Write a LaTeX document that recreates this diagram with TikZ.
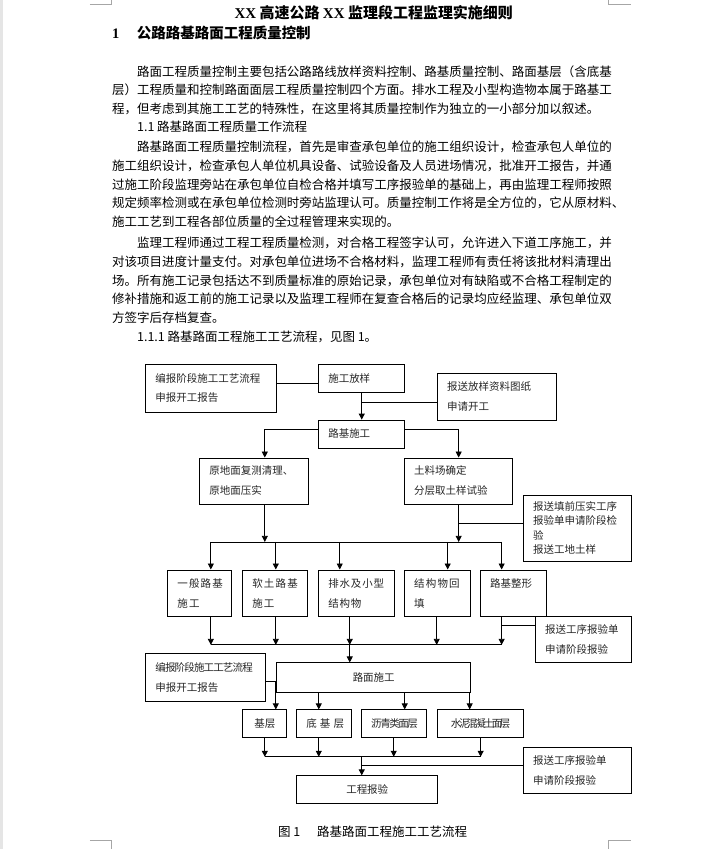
\documentclass[tikz,border=0pt]{standalone}
\usepackage{fontspec}
\setmainfont{Noto Sans CJK SC}
\newfontfamily\latinserif{Liberation Serif}
\usepackage{tikz}
\usetikzlibrary{arrows.meta,positioning,calc}
\newcommand{\bodyfont}{\fontsize{12.5}{18.6}\selectfont}
\newcommand{\boxfont}{\fontsize{10.5}{20}\selectfont}

\begin{document}
\begin{tikzpicture}[x=1pt, y=-1pt,
    para/.style={anchor=base west, text width=500pt, align=left, inner sep=0pt, font=\bodyfont},
    line/.style={anchor=base west, inner sep=0pt, font=\bodyfont},
    box/.style={draw, line width=0.8pt, inner xsep=9.5pt, inner ysep=0pt, align=left, font=\boxfont, text=black!85},
    cbox/.style={box, align=center},
    conn/.style={line width=0.8pt},
    flow/.style={conn, -{Triangle[length=6pt, width=6pt]}}
]
% page
\fill[white] (0,0) rectangle (717,849);
\fill[black!10] (0,0) rectangle (3,849);
\draw[black!35, line width=0.6pt] (90,4) -- (111,4) -- (111,0);
\draw[black!35, line width=0.6pt] (631,4) -- (609,4) -- (609,0);
\draw[black!35, line width=0.6pt] (90,841) -- (111,841) -- (111,849);
\draw[black!35, line width=0.6pt] (631,841) -- (609,841) -- (609,849);

% text part
\node[anchor=base, inner sep=0pt, font=\fontsize{15}{18}\selectfont\bfseries] (title) at (374,18.7)
    {{\latinserif\bfseries XX} 高速公路 {\latinserif\bfseries XX} 监理段工程监理实施细则};
\node[anchor=base west, inner sep=0pt, font=\fontsize{14.5}{18}\selectfont\bfseries] (head) at (112,38)
    {{\latinserif\bfseries 1}\hspace{17.5pt}公路路基路面工程质量控制};
\node[para] (p1) at (112,76) {\hspace*{25pt}路面工程质量控制主要包括公路路线放样资料控制、路基质量控制、路面基层（含底基\\
    层）工程质量和控制路面面层工程质量控制四个方面。排水工程及小型构造物本属于路基工\\
    程，但考虑到其施工工艺的特殊性，在这里将其质量控制作为独立的一小部分加以叙述。};
\node[line] (sec1) at (137,131.7) {1.1 路基路面工程质量工作流程};
\node[para] (p2) at (112,151.7) {\hspace*{25pt}路基路面工程质量控制流程，首先是审查承包单位的施工组织设计，检查承包人单位的\\
    施工组织设计，检查承包人单位机具设备、试验设备及人员进场情况，批准开工报告，并通\\
    过施工阶段监理旁站在承包单位自检合格并填写工序报验单的基础上，再由监理工程师按照\\
    规定频率检测或在承包单位检测时旁站监理认可。质量控制工作将是全方位的，它从原材料、\\
    施工工艺到工程各部位质量的全过程管理来实现的。};
\node[para] (p3) at (112,247.7) {\hspace*{25pt}监理工程师通过工程工程质量检测，对合格工程签字认可，允许进入下道工序施工，并\\
    对该项目进度计量支付。对承包单位进场不合格材料，监理工程师有责任将该批材料清理出\\
    场。所有施工记录包括达不到质量标准的原始记录，承包单位对有缺陷或不合格工程制定的\\
    修补措施和返工前的施工记录以及监理工程师在复查合格后的记录均应经监理、承包单位双\\
    方签字后存档复查。};
\node[line] (sec2) at (137,341) {1.1.1 路基路面工程施工工艺流程，见图 1。};

% flow chart
\node[box, text width=112pt, minimum height=48pt] (bb1) at (211.5,388) {编报阶段施工工艺流程\\申报开工报告};
\node[box, text width=67pt, minimum height=28pt] (fy) at (362,378) {施工放样};
\node[box, text width=100pt, minimum height=47pt] (bsfy) at (497.5,396.5) {报送放样资料图纸\\申请开工};
\node[box, text width=67pt, minimum height=28pt] (ljsg) at (362,434) {路基施工};
\node[box, text width=90pt, minimum height=46pt] (ydm) at (254.5,481) {原地面复测清理、\\原地面压实};
\node[box, text width=89pt, minimum height=46pt] (tlc) at (459,481) {土料场确定\\分层取土样试验};
\node[box, text width=89pt, minimum height=66pt, font=\fontsize{10.5}{14.6}\selectfont] (bstq) at (578,528)
    {报送填前压实工序\\报验单申请阶段检\\验\\报送工地土样};
\node[box, text width=45pt, minimum height=47pt, font=\boxfont\addfontfeature{LetterSpace=11}] (ybl) at (200,593.5) {一般路基\\施工};
\node[box, text width=46pt, minimum height=47pt, font=\boxfont\addfontfeature{LetterSpace=11}] (rtl) at (275.5,593.5) {软土路基\\施工};
\node[box, text width=57pt, minimum height=47pt, font=\boxfont\addfontfeature{LetterSpace=8}] (psx) at (357,593.5) {排水及小型\\结构物};
\node[box, text width=47pt, minimum height=47pt, font=\boxfont\addfontfeature{LetterSpace=11}] (jgw) at (438,593.5) {结构物回\\填};
\node[box, text width=47pt, minimum height=47pt] (zx) at (514,593.5) {路基整形\\\mbox{}};
\node[box, text width=77pt, minimum height=46pt] (bsgx1) at (584,640) {报送工序报验单\\申请阶段报验};
\node[box, text width=101pt, minimum height=48pt] (bb2) at (206,678)
    {{\addfontfeature{LetterSpace=-8}编报阶段施工工艺流程}\\申报开工报告};
\node[cbox, text width=175pt, minimum height=30pt] (lmsg) at (374,678) {路面施工};
\node[cbox, text width=25pt, minimum height=28pt] (jc) at (265,724) {基层};
\node[cbox, text width=36pt, minimum height=28pt, font=\boxfont\addfontfeature{LetterSpace=30}] (djc) at (324.5,724) {底基层};
\node[cbox, text width=46pt, minimum height=28pt, font=\boxfont\addfontfeature{LetterSpace=-14}] (lq) at (394.5,724) {沥青类面层};
\node[cbox, text width=67pt, minimum height=28pt, font=\boxfont\addfontfeature{LetterSpace=-22}] (sn) at (481,724) {水泥混凝土面层};
\node[box, text width=89pt, minimum height=46pt] (bsgx2) at (578,771) {报送工序报验单\\申请阶段报验};
\node[cbox, text width=122pt, minimum height=28pt] (gcby) at (367.5,790) {工程报验};

\coordinate (bus1l) at (211,542);
\coordinate (bus1r) at (502,542);
\coordinate (bus2l) at (211,645);
\coordinate (bus2r) at (502,645);
\coordinate (bus3l) at (265,757);
\coordinate (bus3r) at (481,757);
\coordinate (gin) at ([xshift=-5.5pt]gcby.north);

% connectors
\draw[conn] ([yshift=5pt]bb1.east) -- ([yshift=5pt]bb1.east -| fy.west);
\draw[flow] (fy) -- (ljsg);
\draw[conn] ([yshift=-5.5pt]bsfy.west) -- ([yshift=-5.5pt]bsfy.west -| fy.south);
\draw[flow] ([yshift=5pt]ljsg.west) -| ([xshift=10.5pt]ydm.north);
\draw[flow] ([yshift=5pt]ljsg.east) -| (tlc.north);
\draw[flow] ([xshift=10.5pt]ydm.south) -- ([xshift=10.5pt]ydm.south |- bus1l);
\draw[flow] (tlc.south) -- (tlc.south |- bus1l);
\draw[conn] ([yshift=5pt]bstq.west) -- ([yshift=5pt]bstq.west -| tlc.south);
\draw[conn] (bus1l) -- (bus1r);
\foreach \b/\d in {ybl/11, rtl/0.5, psx/-17, jgw/10, zx/-12}
    \draw[flow] ([xshift=\d pt]\b.north |- bus1l) -- ([xshift=\d pt]\b.north);
\foreach \b/\d in {ybl/11, rtl/0.5, psx/-7, jgw/-1, zx/-12}
    \draw[flow] ([xshift=\d pt]\b.south) -- ([xshift=\d pt]\b.south |- bus2l);
\draw[conn] (bus2l) -- (bus2r);
\draw[conn] ([yshift=14pt]bsgx1.west) -- ([yshift=14pt]bsgx1.west -| bus2r);
\draw[flow] ([xshift=-24pt]lmsg.north |- bus2l) -- ([xshift=-24pt]lmsg.north);
\draw[flow] ([yshift=-4pt]bb2.east) -| ([xshift=11pt]jc.north);
\foreach \b/\d in {djc/-5.5, lq/10.5, sn/-11}
    \draw[flow] ([xshift=\d pt]\b.north |- lmsg.south) -- ([xshift=\d pt]\b.north);
\foreach \b/\d in {jc/0, djc/-5.5, lq/-0.5, sn/0}
    \draw[flow] ([xshift=\d pt]\b.south) -- ([xshift=\d pt]\b.south |- bus3l);
\draw[conn] (bus3l) -- (bus3r);
\draw[flow] (gin |- bus3l) -- (gin);
\draw[conn] ([yshift=5pt]bsgx2.west) -- ([yshift=5pt]bsgx2.west -| gin);

\node[line] (cap) at (278,836.5) {图~1\hspace{17pt}路基路面工程施工工艺流程};
\end{tikzpicture}
\end{document}
